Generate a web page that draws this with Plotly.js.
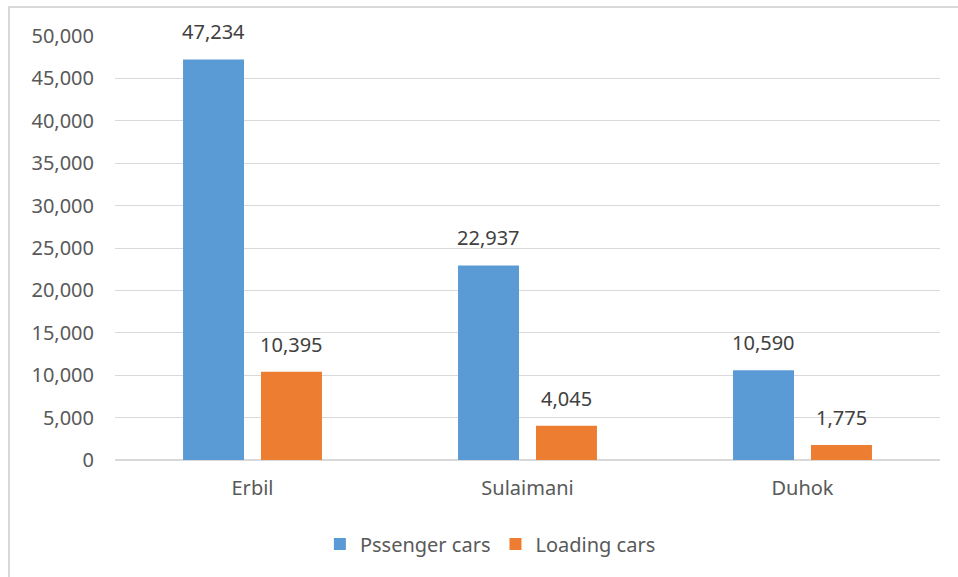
<!DOCTYPE html>
<html><head><meta charset="utf-8">
<script src="https://cdn.plot.ly/plotly-3.0.1.min.js"></script>
<style>
html,body{margin:0;padding:0;background:#fff;overflow:hidden}
#wrap{position:relative;width:958px;height:577px}
#chart{width:958px;height:577px}
#frame{position:absolute;left:8px;top:6px;width:1000px;height:700px;border-left:2px solid #d9d9d9;border-top:2px solid #d9d9d9;pointer-events:none}
</style></head>
<body><div id="wrap"><div id="chart"></div><div id="frame"></div></div>
<script>
const categories = ["Erbil", "Sulaimani", "Duhok"];
const passengerCars = [47234, 22937, 10590];
const loadingCars = [10395, 4045, 1775];
const seriesNames = ["Pssenger cars", "Loading cars"];
const tickValues = [0, 5000, 10000, 15000, 20000, 25000, 30000, 35000, 40000, 45000, 50000];

const fmt = v => v.toLocaleString('en-US');
const FONT = '"Noto Sans", "Open Sans", sans-serif';

const traces = [
  {type:'bar', name:seriesNames[0], x:categories, y:passengerCars, marker:{color:'#5B9BD5'}},
  {type:'bar', name:seriesNames[1], x:categories, y:loadingCars, marker:{color:'#ED7D31'}}
];

const annotations = [];
[passengerCars, loadingCars].forEach((arr, si) => {
  arr.forEach((v, i) => {
    annotations.push({x:categories[i], y:v, xref:'x', yref:'y', text:fmt(v), showarrow:false,
      xanchor:'center', yanchor:'bottom', xshift: si===0 ? -39 : 39, yshift:12,
      font:{family:FONT, size:20, color:'#404040'}});
  });
});

const layout = {
  width:958, height:577,
  margin:{l:115, r:18, t:36, b:117},
  paper_bgcolor:'#fff', plot_bgcolor:'#fff',
  barmode:'group', bargap:0.433, bargroupgap:0.218,
  font:{family:FONT, size:20, color:'#595959'},
  xaxis:{type:'category', showgrid:false, showline:false, zeroline:false, ticks:'', ticklabelstandoff:14,
    tickfont:{family:FONT, size:20, color:'#595959'}},
  yaxis:{range:[0,50000], tickvals:tickValues, ticktext:tickValues.map(fmt), showgrid:true, gridcolor:'#d9d9d9', gridwidth:1,
    zeroline:true, zerolinecolor:'#d9d9d9', zerolinewidth:2, showline:false, ticks:'', ticklabelstandoff:20,
    tickfont:{family:FONT, size:20, color:'#595959'}},
  legend:{orientation:'h', x:0.455, xanchor:'center', y:-0.198, yanchor:'middle', font:{family:FONT, size:20, color:'#595959'},
    itemwidth:30, traceorder:'normal'},
  annotations:annotations,
  showlegend:true
};
Plotly.newPlot('chart', traces, layout, {displayModeBar:false, staticPlot:true});
</script></body></html>
